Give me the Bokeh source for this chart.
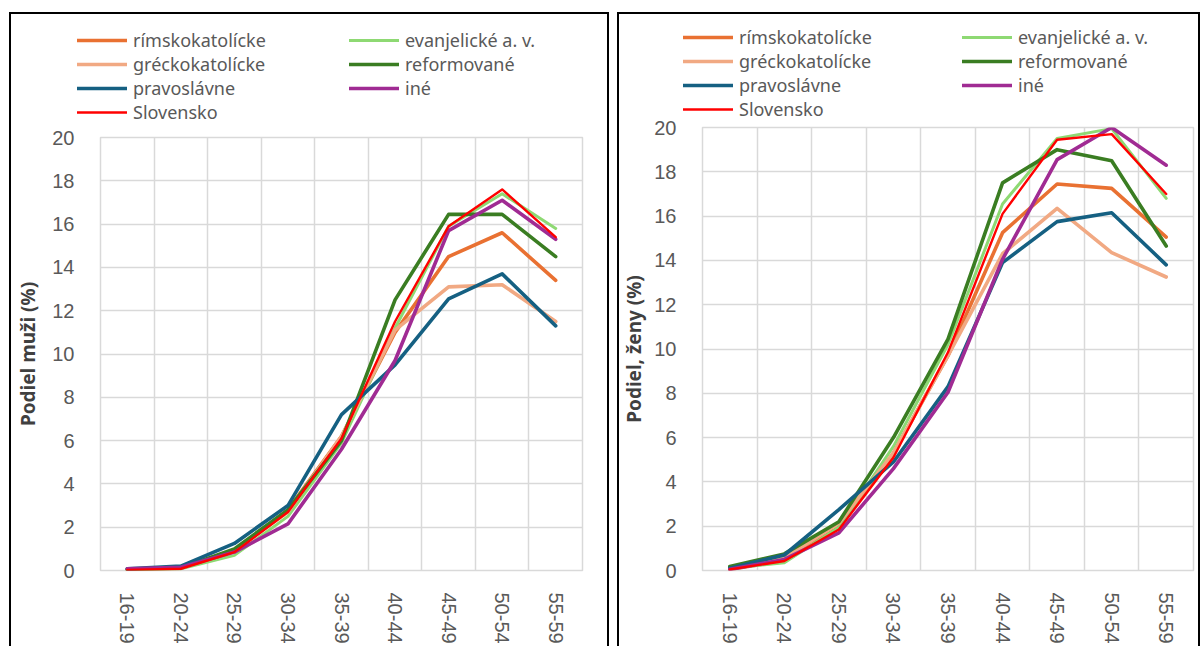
from bokeh.plotting import figure
from bokeh.models import Legend, LegendItem, FixedTicker, Range1d, InlineStyleSheet
from bokeh.layouts import row, column
from bokeh.embed import file_html
from bokeh.resources import INLINE

# Age groups on the horizontal axis
age_groups = ["16-19", "20-24", "25-29", "30-34", "35-39", "40-44", "45-49", "50-54", "55-59"]

# Share by age group (%), men
muzi_rimskokatolicke = [0.05, 0.10, 0.90, 2.80, 6.20, 11.0, 14.5, 15.6, 13.4]
muzi_evanjelicke = [0.03, 0.08, 0.70, 2.50, 5.90, 11.2, 15.9, 17.4, 15.8]
muzi_greckokatolicke = [0.05, 0.12, 0.95, 2.70, 6.20, 11.1, 13.1, 13.2, 11.5]
muzi_reformovane = [0.05, 0.12, 1.00, 2.80, 6.00, 12.5, 16.45, 16.45, 14.5]
muzi_pravoslavne = [0.08, 0.20, 1.25, 3.00, 7.20, 9.5, 12.55, 13.7, 11.3]
muzi_ine = [0.08, 0.15, 0.85, 2.15, 5.60, 9.7, 15.7, 17.1, 15.3]
muzi_slovensko = [0.03, 0.08, 0.85, 2.70, 6.10, 11.5, 15.9, 17.6, 15.4]

# Share by age group (%), women
zeny_rimskokatolicke = [0.05, 0.45, 1.95, 5.30, 9.70, 15.25, 17.45, 17.25, 15.05]
zeny_evanjelicke = [0.10, 0.35, 1.95, 5.60, 10.20, 16.55, 19.50, 19.95, 16.80]
zeny_greckokatolicke = [0.08, 0.55, 2.15, 5.30, 9.70, 14.30, 16.35, 14.35, 13.25]
zeny_reformovane = [0.18, 0.75, 2.20, 6.00, 10.45, 17.50, 19.00, 18.50, 14.65]
zeny_pravoslavne = [0.10, 0.70, 2.75, 4.90, 8.30, 13.90, 15.75, 16.15, 13.80]
zeny_ine = [0.05, 0.50, 1.70, 4.60, 8.05, 14.05, 18.55, 20.00, 18.30]
zeny_slovensko = [0.05, 0.43, 1.85, 5.10, 9.85, 16.10, 19.45, 19.70, 17.00]

series_names = ["rímskokatolícke", "evanjelické a. v.", "gréckokatolícke", "reformované",
                "pravoslávne", "iné", "Slovensko"]
series_colors = ["#E97132", "#8ED973", "#F1A983", "#3A7D22", "#156082", "#A02B93", "#FF0000"]
series_widths = [3.6, 3.0, 3.6, 3.6, 3.6, 3.6, 2.4]

men = [muzi_rimskokatolicke, muzi_evanjelicke, muzi_greckokatolicke, muzi_reformovane,
       muzi_pravoslavne, muzi_ine, muzi_slovensko]
women = [zeny_rimskokatolicke, zeny_evanjelicke, zeny_greckokatolicke, zeny_reformovane,
         zeny_pravoslavne, zeny_ine, zeny_slovensko]

TICK_FONT = "Liberation Sans"
TEXT_FONT = "Noto Sans"
GREY = "#595959"
GRID = "#d9d9d9"
HEIGHT = 646
BOTTOM = 73
ROW_H = 24
NAN = float("nan")


def frame_css(left, width):
    # black panel frame over the whole panel, open at the bottom edge of the page
    return InlineStyleSheet(css=(
        ":host { position: relative; }"
        ":host::after { content: ''; position: absolute; "
        f"left: {left}px; top: 12px; width: {width}px; height: {HEIGHT - 12}px; "
        "border: 2.5px solid black; border-bottom: none; box-sizing: border-box; "
        "pointer-events: none; z-index: 10; }"
    ))


def legend_strip(width, height, legend_xy, label_width):
    # strip above the chart holding the two-column legend
    q = figure(width=width, height=height, output_backend="svg", toolbar_location=None,
               x_range=Range1d(0, 1), y_range=Range1d(0, 1),
               x_axis_type=None, y_axis_type=None, frame_align=False,
               min_border=0, background_fill_color="white", border_fill_color="white")
    q.outline_line_color = None
    q.grid.visible = False
    keys = []
    for col, lw in zip(series_colors, series_widths):
        keys.append(q.line(x=[NAN], y=[NAN], line_color=col, line_width=lw, line_cap="round"))
    order = [0, 2, 4, 6, 1, 3, 5]  # column-major: left column first
    items = [LegendItem(label=series_names[i], renderers=[keys[i]]) for i in order]
    legend = Legend(items=items, location=legend_xy, ncols=2,
                    glyph_width=50, glyph_height=ROW_H, label_height=ROW_H,
                    label_width=label_width, label_standoff=6, spacing=0, padding=0,
                    margin=0, border_line_color=None, background_fill_alpha=0,
                    label_text_font=TEXT_FONT, label_text_font_size="18px",
                    label_text_color=GREY)
    q.add_layout(legend)
    return q


def chart(values, y_title, width, height, border_left, border_right, border_top,
          tick_standoff, title_standoff):
    p = figure(width=width, height=height, output_backend="svg", toolbar_location=None,
               x_range=Range1d(-0.5, len(age_groups) - 0.5), y_range=Range1d(0, 20),
               min_border_left=border_left, min_border_right=border_right,
               min_border_top=border_top, min_border_bottom=BOTTOM, frame_align=False,
               background_fill_color="white", border_fill_color="white")
    p.outline_line_color = GRID
    p.outline_line_width = 1.5

    xs = list(range(len(age_groups)))
    for vals, col, lw in zip(values, series_colors, series_widths):
        p.line(xs, vals, line_color=col, line_width=lw, line_join="round", line_cap="round")

    p.xaxis.ticker = FixedTicker(ticks=xs)
    p.xaxis.major_label_overrides = {i: g for i, g in enumerate(age_groups)}
    p.xaxis.major_label_orientation = "vertical"
    p.xaxis.major_label_text_font = TICK_FONT
    p.xaxis.major_label_text_font_size = "20px"
    p.xaxis.major_label_text_color = GREY
    p.xaxis.major_label_standoff = 16
    p.xaxis.major_tick_line_color = None
    p.xaxis.minor_tick_line_color = None
    p.xaxis.axis_line_color = None

    p.yaxis.ticker = FixedTicker(ticks=list(range(0, 21, 2)))
    p.yaxis.major_label_text_font = TICK_FONT
    p.yaxis.major_label_text_font_size = "20px"
    p.yaxis.major_label_text_color = GREY
    p.yaxis.major_label_standoff = tick_standoff
    p.yaxis.major_tick_line_color = None
    p.yaxis.minor_tick_line_color = None
    p.yaxis.axis_line_color = None
    p.yaxis.axis_label = y_title
    p.yaxis.axis_label_text_font = TEXT_FONT
    p.yaxis.axis_label_text_font_style = "bold"
    p.yaxis.axis_label_text_font_size = "19px"
    p.yaxis.axis_label_text_color = "#404040"
    p.yaxis.axis_label_standoff = title_standoff

    # horizontal lines at every tick, vertical lines between age groups
    p.xgrid.ticker = FixedTicker(ticks=[i - 0.5 for i in range(len(age_groups) + 1)])
    p.xgrid.grid_line_color = GRID
    p.xgrid.grid_line_width = 1.5
    p.ygrid.grid_line_color = GRID
    p.ygrid.grid_line_width = 1.5
    return p


def panel(values, y_title, width, strip_h, legend_xy, label_width, border_left,
          border_right, frame_top, tick_standoff, title_standoff, box_left, box_width):
    strip = legend_strip(width, strip_h, legend_xy, label_width)
    p = chart(values, y_title, width, HEIGHT - strip_h, border_left, border_right,
              frame_top - strip_h, tick_standoff, title_standoff)
    return column(strip, p, spacing=0, stylesheets=[frame_css(box_left, box_width)])


left_panel = panel(men, "Podiel muži (%)", 613, 124, (77, 0), 216,
                   100, 31, 137, 20, 8, 9, 600)
right_panel = panel(women, "Podiel, ženy (%)", 588, 116, (70, -5), 223,
                    89, 8, 127, 20, 4, 4, 583)

layout = row(left_panel, right_panel, spacing=0)
open("out.html", "w").write(file_html(layout, INLINE))
